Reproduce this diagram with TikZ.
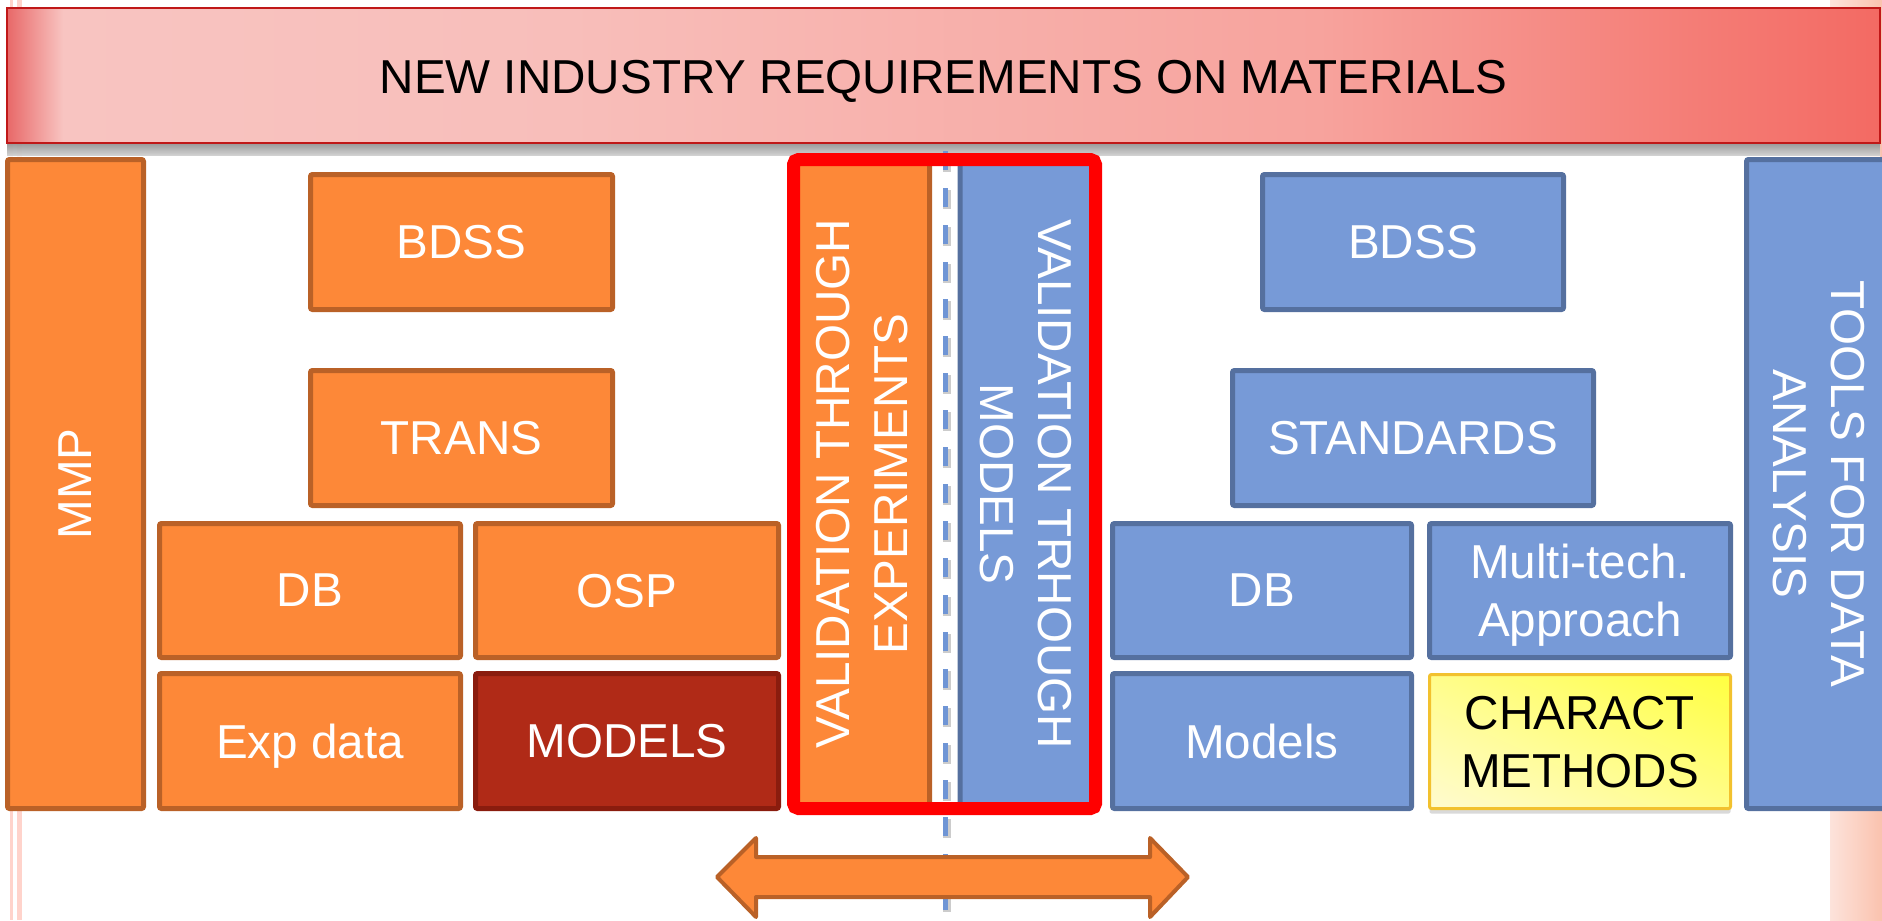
\documentclass[tikz,border=0pt]{standalone}
\usepackage{fontspec}
\setmainfont{Liberation Sans}
\usetikzlibrary{fit,shadows,shadings}
\definecolor{orF}{HTML}{FD8838}
\definecolor{orD}{HTML}{BA6127}
\definecolor{rdF}{HTML}{B02A17}
\definecolor{rdD}{HTML}{8A1C0E}
\definecolor{blF}{HTML}{779AD7}
\definecolor{blD}{HTML}{55709F}
\definecolor{dashB}{HTML}{6F95D5}
\definecolor{ylD}{HTML}{F2C12E}
\definecolor{ylA}{HTML}{FFFBD0}
\definecolor{ylB}{HTML}{FFFD8A}
\definecolor{ylC}{HTML}{FFFF40}
\definecolor{bnD}{HTML}{C01818}
\definecolor{bnA}{HTML}{E86868}
\definecolor{bnB}{HTML}{F8C4C1}
\definecolor{bnC}{HTML}{F8BEBA}
\definecolor{bnE}{HTML}{F7A39D}
\definecolor{bnF}{HTML}{F36A63}
\definecolor{pinkL}{HTML}{FFD3CB}
\definecolor{stA}{HTML}{FDE3DB}
\definecolor{stB}{HTML}{FAC2AE}
\pgfdeclarehorizontalshading{bannershade}{100bp}{color(0bp)=(bnA); color(25bp)=(bnA); color(26.5bp)=(bnB); color(40bp)=(bnC); color(60bp)=(bnE); color(75bp)=(bnF); color(100bp)=(bnF)}
\begin{document}
\begin{tikzpicture}[x=0.5pt,y=-0.5pt,
  bx/.style={draw, line width=2.5pt, rounded corners=1pt, inner sep=0pt},
  obox/.style={bx, fill=orF, draw=orD},
  rbox/.style={bx, fill=rdF, draw=rdD},
  bbox/.style={bx, fill=blF, draw=blD},
  txt/.style={text=white, font=\fontsize{23.8}{29}\selectfont, align=center, inner sep=0pt, text depth=0pt}]
\useasboundingbox (0,0) rectangle (1882,920);
% slide decorations
\fill[pinkL] (10,0) rectangle (13,920);
\fill[pinkL] (17,0) rectangle (22,920);
\fill[left color=stA, right color=stB] (1830,0) rectangle (1882,920);
% banner shadow and banner
\fill[top color=black!30, bottom color=white, opacity=0.8] (7,143) rectangle (1880,156);
\node[fit={(7,8)(1880,143)}, inner sep=0pt, draw=bnD, line width=1.2pt, shading=bannershade] (banner) {};
\node[txt, text=black] (bannerT) at ([yshift=-0.75pt]banner.center) {NEW INDUSTRY REQUIREMENTS ON MATERIALS};
% dashed separator
\coordinate (dtop) at (945,151);
\coordinate (dbot) at (945,925);
\draw[black, opacity=0.2, line width=4pt, dash pattern=on 9.5pt off 9pt] ([xshift=0.8pt,yshift=-1.2pt]dtop) -- ([xshift=0.8pt,yshift=-1.2pt]dbot);
\draw[dashB, line width=2.5pt, dash pattern=on 9.5pt off 9pt] (dtop) -- (dbot);
% validation boxes
\node[obox, fit={(795,162)(929.5,806)}] (valexp) {};
\node[txt, rotate=90] (valexpT) at (valexp.center) {VALIDATION THROUGH\\EXPERIMENTS};
\node[bbox, fit={(960,162)(1092,806)}] (valmod) {};
\node[txt, rotate=-90] (valmodT) at (valmod.center) {VALIDATION TRHOUGH\\MODELS};
\node[draw=red, line width=6.5pt, rounded corners=2.5pt, inner sep=0pt, fit={(793.5,159.5)(1095.5,808.5)}] (frame) {};
% left group
\node[obox, fit={(7.5,159.5)(143.5,808.5)}] (mmp) {};
\node[txt, rotate=90] (mmpT) at (mmp.center) {MMP};
\node[obox, fit={(310.5,174.5)(612.5,309.5)}] (bdssL) {};
\node[txt] (bdssLT) at (bdssL.center) {BDSS};
\node[obox, fit={(310.5,370.5)(612.5,505.5)}] (trans) {};
\node[txt] (transT) at (trans.center) {TRANS};
\node[obox, fit={(159.5,523.5)(460.5,657.5)}] (dbL) {};
\node[txt] (dbLT) at (dbL.center) {DB};
\node[obox, fit={(475.5,523.5)(778.5,657.5)}] (osp) {};
\node[txt] (ospT) at (osp.center) {OSP};
\node[obox, fit={(159.5,673.5)(460.5,808.5)}] (expd) {};
\node[txt] (expdT) at (expd.center) {Exp data};
\node[rbox, fit={(475.5,673.5)(778.5,808.5)}] (modelsL) {};
\node[txt] (modelsLT) at (modelsL.center) {MODELS};
% right group
\node[bbox, fit={(1262.5,174.5)(1563.5,309.5)}] (bdssR) {};
\node[txt] (bdssRT) at (bdssR.center) {BDSS};
\node[bbox, fit={(1232.5,370.5)(1593.5,505.5)}] (std) {};
\node[txt] (stdT) at (std.center) {STANDARDS};
\node[bbox, fit={(1112.5,523.5)(1411.5,657.5)}] (dbR) {};
\node[txt] (dbRT) at (dbR.center) {DB};
\node[bbox, fit={(1429.5,523.5)(1730.5,657.5)}] (multi) {};
\node[txt] (multiT) at (multi.center) {Multi-tech.\\Approach};
\node[bbox, fit={(1112.5,673.5)(1411.5,808.5)}] (modelsR) {};
\node[txt] (modelsRT) at (modelsR.center) {Models};
\node[bx, draw=ylD, line width=1.5pt, fit={(1429.5,674.5)(1730.5,808.5)},
  lower left=ylA, upper right=ylC, upper left=ylB, lower right=ylB,
  drop shadow={shadow xshift=0pt, shadow yshift=-2.5pt, opacity=0.3}] (charact) {};
\node[txt, text=black] (charactT) at (charact.center) {CHARACT\\METHODS};
\node[bbox, fit={(1746.5,159.5)(1892,808.5)}] (tools) {};
\node[txt, rotate=-90] (toolsT) at (tools.center) {TOOLS FOR DATA\\ANALYSIS};
% double arrow
\draw[fill=orF, draw=orD, line width=2pt, line join=round]
  (717,877) -- (756,838) -- (756,857) -- (1150,857) -- (1150,838) -- (1188,877)
  -- (1150,917) -- (1150,897) -- (756,897) -- (756,917) -- cycle;
\end{tikzpicture}
\end{document}
